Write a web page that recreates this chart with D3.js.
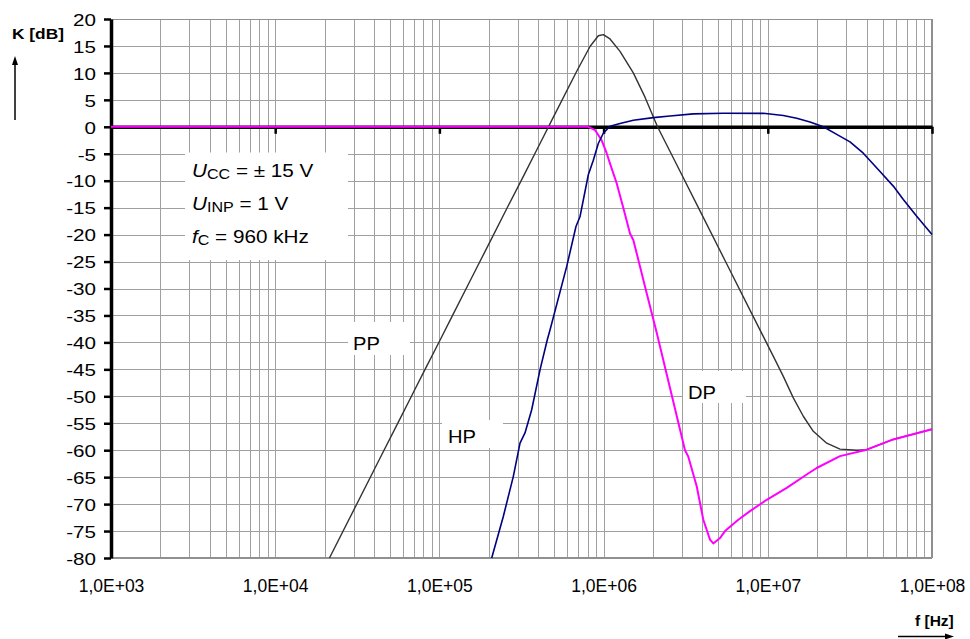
<!DOCTYPE html>
<html>
<head>
<meta charset="utf-8">
<script src="https://cdn.jsdelivr.net/npm/d3@7/dist/d3.min.js"></script>
<style>
  html, body { margin: 0; padding: 0; background: #fff; }
  svg { display: block; font-family: "Liberation Sans", Arial, sans-serif; }
</style>
</head>
<body>
<svg id="chart" width="970" height="639"></svg>
<script>
// ---------------- data ----------------
const xTickValues = [1e3, 1e4, 1e5, 1e6, 1e7, 1e8];
const xTickLabels = ["1,0E+03", "1,0E+04", "1,0E+05", "1,0E+06", "1,0E+07", "1,0E+08"];
const yTickValues = [20, 15, 10, 5, 0, -5, -10, -15, -20, -25, -30, -35, -40, -45, -50, -55, -60, -65, -70, -75, -80];
const yTickLabels = ["20", "15", "10", "5", "0", "-5", "-10", "-15", "-20", "-25", "-30", "-35", "-40", "-45", "-50", "-55", "-60", "-65", "-70", "-75", "-80"];

// PP (band-pass) – frequency [Hz], gain [dB]
const freqPP = [21400, 43450, 57540, 67800, 83700, 100850, 118800, 153600, 172500, 208200,
  257000, 317100, 332100, 391400, 410000, 483000, 518000, 686000, 826500, 928500,
  996000, 1094000, 1259000, 1517000, 1787000, 2130000, 2721000, 3865000, 5487000, 7790000,
  11060000, 12430000, 14300000, 16450000, 18930000, 22850000, 27530000, 34780000, 40010000, 58110000, 100000000];
const dbPP = [-80, -61.5, -54.2, -49.9, -44.4, -39.6, -35.3, -28.6, -25.6, -20.7,
  -15.2, -9.8, -8.6, -4.3, -3.1, 1.2, 3.0, 10.3, 14.9, 16.9,
  17.1, 16.3, 14.0, 10.0, 5.5, 0, -6.4, -15.6, -24.8, -34.0,
  -43.2, -46.3, -50.3, -53.7, -56.5, -58.7, -59.8, -60.0, -59.9, -58.0, -56.1];

// HP (high-pass)
const freqHP = [208200, 245000, 281800, 309700, 332100, 364800, 410000, 454000, 471600, 596300,
  678800, 718000, 807000, 865700, 928500, 996000, 1094000, 1259000, 1517000, 2008000,
  2537000, 3518000, 5358000, 9390000, 12430000, 15000000, 18070000, 21780000, 26280000, 31670000,
  38150000, 48240000, 58110000, 66880000, 80680000, 100000000];
const dbHP = [-80, -72.3, -64.9, -58.7, -56.8, -52.5, -45.1, -39.5, -37.7, -25.9,
  -18.5, -16.7, -8.9, -6.2, -3.1, -1.2, 0.1, 0.6, 1.2, 1.7,
  2.0, 2.4, 2.5, 2.5, 2.1, 1.6, 0.9, 0, -1.4, -2.8,
  -4.9, -8.3, -11.0, -13.5, -16.6, -20.0];

// DP (low-pass)
const freqDP = [1000, 807000, 886500, 973600, 1044000, 1094000, 1202000, 1318000, 1448000, 1517000,
  1666000, 1830000, 2106000, 3131000, 3280000, 3690000, 4048000, 4446000, 4657000, 5116000,
  5487000, 6612000, 7790000, 9847000, 13040000, 17250000, 19850000, 27530000, 40010000, 58110000, 100000000];
const dbDP = [0, 0, -0.6, -2.5, -4.9, -6.8, -10.5, -15.0, -19.8, -21.0,
  -25.9, -30.9, -38.2, -60.0, -61.2, -66.7, -72.9, -76.6, -77.3, -76.3,
  -75.0, -72.9, -71.3, -69.2, -67.0, -64.5, -63.3, -61.1, -59.9, -58.0, -56.1];

const seriesNames = ["PP", "HP", "DP"];
const seriesColors = ["#333333", "#000080", "#ff00ff"];

// ---------------- layout ----------------
const svg = d3.select("#chart");
const L = 111, R = 932, T = 19, B = 558;
const x = d3.scaleLog().domain([1e3, 1e8]).range([L, R]);
const y = d3.scaleLinear().domain([-80, 20]).range([B, T]);

svg.append("rect").attr("width", 970).attr("height", 639).attr("fill", "#fff");

// grid
const grid = svg.append("g").attr("shape-rendering", "crispEdges");
const minorX = [];
for (let d = 3; d < 8; d++) for (let m = 1; m <= 9; m++) {
  const v = m * Math.pow(10, d);
  if (v > 1e3) minorX.push(v);
}
grid.selectAll("line.vx").data(minorX).join("line")
  .attr("x1", d => Math.round(x(d)) + 0.5).attr("x2", d => Math.round(x(d)) + 0.5)
  .attr("y1", T).attr("y2", B)
  .attr("stroke", "#a0a0a0").attr("stroke-width", 1);
grid.selectAll("line.hy").data(yTickValues).join("line")
  .attr("x1", L).attr("x2", R)
  .attr("y1", d => Math.round(y(d)) + 0.5).attr("y2", d => Math.round(y(d)) + 0.5)
  .attr("stroke", "#a0a0a0").attr("stroke-width", 1);
// border (top / right / bottom)
grid.append("line").attr("x1", L).attr("x2", R).attr("y1", T + 0.5).attr("y2", T + 0.5).attr("stroke", "#909090");
grid.append("line").attr("x1", R).attr("x2", R).attr("y1", T).attr("y2", B).attr("stroke", "#909090").attr("stroke-width", 2);
grid.append("line").attr("x1", L).attr("x2", R).attr("y1", B).attr("y2", B).attr("stroke", "#909090").attr("stroke-width", 2);

// white label boxes
const boxes = [
  {x0: 185, y0: 152.5, x1: 348, y1: 260},
  {x0: 348, y0: 322, x1: 410, y1: 355},
  {x0: 442, y0: 420, x1: 503, y1: 448},
  {x0: 683, y0: 371, x1: 746, y1: 403}
];
svg.selectAll("rect.box").data(boxes).join("rect")
  .attr("x", d => d.x0).attr("y", d => d.y0)
  .attr("width", d => d.x1 - d.x0).attr("height", d => d.y1 - d.y0)
  .attr("fill", "#fff");

// x axis on 0 dB line (thick, ticks downward)
const xAxisG = svg.append("g").attr("transform", `translate(0,${y(0)})`)
  .call(d3.axisBottom(x).tickValues(xTickValues).tickFormat("").tickSize(7).tickSizeOuter(0));
xAxisG.select(".domain").attr("stroke", "#000").attr("stroke-width", 3.5);
xAxisG.selectAll(".tick line").attr("stroke", "#000").attr("stroke-width", 2.5);

// x labels at the bottom
const xLab = svg.append("g").attr("transform", `translate(0,${B})`)
  .call(d3.axisBottom(x).tickValues(xTickValues).tickFormat((d, i) => xTickLabels[i]).tickSize(0).tickPadding(22));
xLab.select(".domain").remove();
xLab.selectAll("text").attr("font-family", "'Liberation Sans', Arial, sans-serif")
  .attr("font-size", 17.5).attr("fill", "#000");

// y axis
const yAxisG = svg.append("g").attr("transform", `translate(${L},0)`)
  .call(d3.axisLeft(y).tickValues(yTickValues).tickFormat((d, i) => yTickLabels[i]).tickSize(7).tickSizeOuter(0));
yAxisG.select(".domain").attr("stroke", "#000").attr("stroke-width", 3.5);
yAxisG.selectAll(".tick line").attr("stroke", "#000").attr("stroke-width", 2.5);
yAxisG.selectAll("text")
  .attr("x", 0).attr("dy", "0.38em")
  .attr("transform", "translate(-15,0) scale(1.25,1)")
  .attr("font-family", "'Liberation Sans', Arial, sans-serif")
  .attr("font-size", 16.5).attr("fill", "#000");

// curves
const line = d3.line().x(d => x(d[0])).y(d => y(d[1]));
const seriesData = [
  d3.zip(freqPP, dbPP),
  d3.zip(freqHP, dbHP),
  d3.zip(freqDP, dbDP)
];
const widths = [1.4, 1.6, 2];
const drawOrder = [0, 2, 1];
drawOrder.forEach(i => {
  svg.append("path").datum(seriesData[i])
    .attr("d", line)
    .attr("fill", "none")
    .attr("stroke", seriesColors[i])
    .attr("stroke-width", widths[i])
    .attr("stroke-linejoin", "round");
});

// series labels
const labelPos = [[353, 350], [448, 443], [688, 399]];
seriesNames.forEach((n, i) => {
  svg.append("text")
    .attr("transform", `translate(${labelPos[i][0]},${labelPos[i][1]}) scale(1.12,1)`)
    .attr("font-size", 18).attr("fill", "#000").text(n);
});

// parameter annotation
const params = [
  {main: "U", sub: "CC", rest: " = ± 15 V", yy: 177},
  {main: "U", sub: "INP", rest: " = 1 V", yy: 210},
  {main: "f", sub: "C", rest: " = 960 kHz", yy: 243}
];
params.forEach(p => {
  const t = svg.append("text")
    .attr("transform", `translate(192,${p.yy}) scale(1.15,1)`)
    .attr("font-size", 18).attr("fill", "#000");
  t.append("tspan").attr("font-style", "italic").text(p.main);
  t.append("tspan").attr("font-size", 14).attr("dy", 2).text(p.sub);
  t.append("tspan").attr("dy", -2).text(p.rest);
});

// axis titles
svg.append("text").attr("transform", "translate(12,39) scale(1.12,1)")
  .attr("font-size", 15.5).attr("font-weight", "bold").attr("fill", "#000").text("K [dB]");
svg.append("line").attr("x1", 15).attr("x2", 15).attr("y1", 120).attr("y2", 63)
  .attr("stroke", "#000").attr("stroke-width", 1.5);
svg.append("path").attr("d", "M15,56 L12,65 L18,65 Z").attr("fill", "#000");

svg.append("text").attr("x", 915).attr("y", 626)
  .attr("font-size", 15.5).attr("font-weight", "bold").attr("fill", "#000").text("f [Hz]");
svg.append("line").attr("x1", 898).attr("x2", 946).attr("y1", 636.5).attr("y2", 636.5)
  .attr("stroke", "#000").attr("stroke-width", 1.5);
svg.append("path").attr("d", "M954,636.5 L945,633.5 L945,639.5 Z").attr("fill", "#000");
</script>
</body>
</html>
